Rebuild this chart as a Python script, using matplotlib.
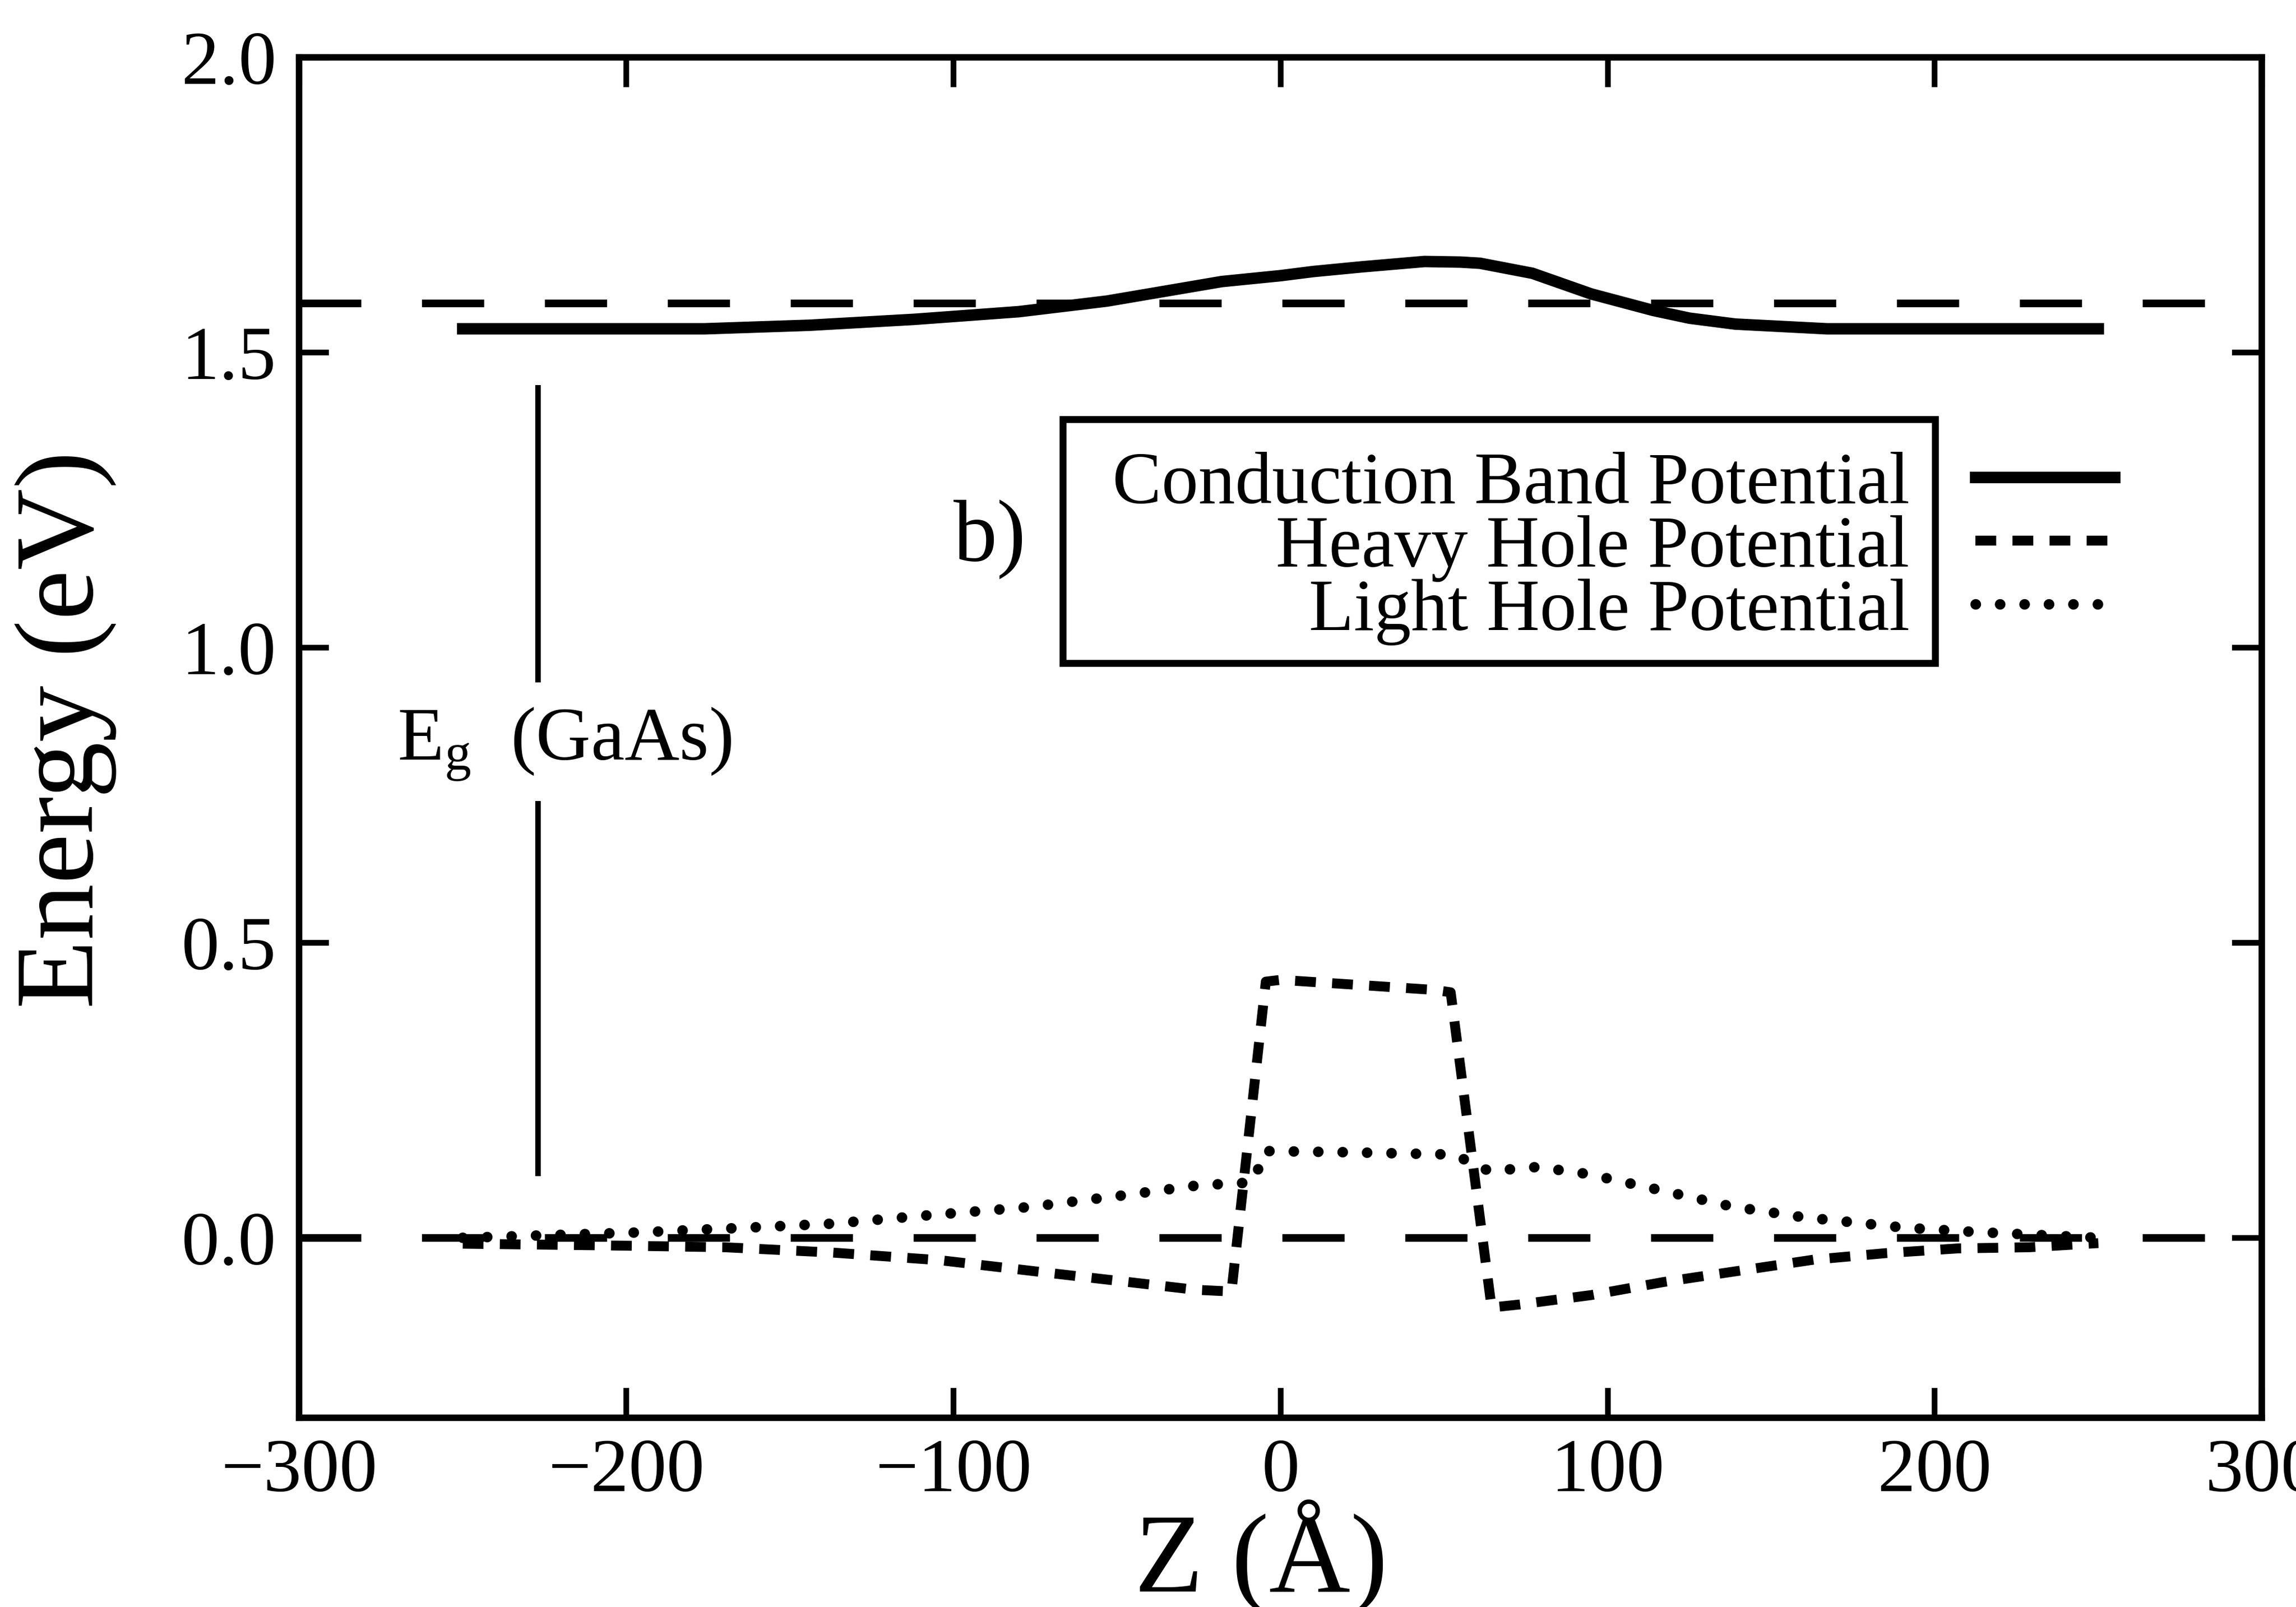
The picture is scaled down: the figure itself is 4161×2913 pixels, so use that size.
import numpy as np
import matplotlib
matplotlib.use("Agg")
import matplotlib.pyplot as plt
from matplotlib.patches import Rectangle
from matplotlib.transforms import Bbox
from matplotlib.ticker import FormatStrFormatter

plt.rcParams['font.family'] = ['Liberation Serif', 'DejaVu Serif']
plt.rcParams['mathtext.fontset'] = 'custom'
plt.rcParams['mathtext.rm'] = 'Liberation Serif'
plt.rcParams['mathtext.it'] = 'Liberation Serif:italic'

# Conduction band potential (eV) vs Z (Angstrom)
cb_z = [-250, -200, -176, -144, -112, -80, -53, -18, 0, 10, 25, 44, 55, 61, 77, 95, 114, 125, 139, 167, 200, 250]
cb_e = [1.540, 1.540, 1.540, 1.546, 1.556, 1.569, 1.587, 1.620, 1.630, 1.637, 1.645, 1.654, 1.653, 1.651,
        1.634, 1.599, 1.571, 1.558, 1.548, 1.540, 1.540, 1.540]

# Heavy hole potential
hh_z = [-250, -205, -170, -137, -104, -70, -48, -26, -15, -4.5, 0, 25, 47, 52, 64.5, 73, 95, 117, 140, 163, 185, 207, 229, 250]
hh_e = [-0.010, -0.013, -0.016, -0.025, -0.038, -0.060, -0.074, -0.088, -0.091, 0.434, 0.437, 0.428, 0.420, 0.416,
        -0.118, -0.113, -0.097, -0.075, -0.056, -0.037, -0.026, -0.018, -0.016, -0.009]

# Light hole potential
lh_z = [-250, -197, -160, -137, -108, -77, -48, -25, -11, -8, -5, 20, 53, 63.8, 78.5, 94, 115, 138, 159.5, 191, 212, 250]
lh_e = [0.000, 0.009, 0.018, 0.024, 0.038, 0.052, 0.072, 0.089, 0.093, 0.097, 0.147, 0.145, 0.141, 0.113, 0.120,
        0.108, 0.082, 0.053, 0.035, 0.017, 0.010, 0.000]

# horizontal reference levels (long dashes)
ref_levels = [1.583, 0.0]

# band gap marker
eg_z = [-227, -227]
eg_lo = [0.104, 0.941]
eg_hi = [0.740, 1.445]

xticks = [-300, -200, -100, 0, 100, 200, 300]
yticks = [0.0, 0.5, 1.0, 1.5, 2.0]

fig = plt.figure(figsize=(4161.2 / 300, 2913.2 / 300), dpi=300)
ax = fig.add_axes([0.1303, 0.1177, 0.8548, 0.8466])

for lev in ref_levels:
    ax.axhline(lev, color='black', lw=3.3, linestyle=(0, (8.2, 8.0)))

cb, = ax.plot(cb_z, cb_e, color='black', lw=5.0, label='Conduction Band Potential')
hh, = ax.plot(hh_z, hh_e, color='black', lw=4.3, linestyle=(0, (2.1, 1.65)), label='Heavy Hole Potential')
lh, = ax.plot(lh_z, lh_e, color='black', lw=4.6, linestyle=(0, (0.01, 2.3)),
              dash_capstyle='round', label='Light Hole Potential')

ax.vlines(eg_z, eg_lo, eg_hi, color='black', lw=2.4)
ax.text(-270, 0.81, r'E$_\mathrm{g}$  (GaAs)', fontsize=33, ha='left', va='baseline')
ax.text(-100, 1.148, 'b)', fontsize=38, ha='left', va='baseline')

ax.set_xlim(-300, 300)
ax.set_ylim(-0.305, 2.0)
ax.set_xticks(xticks)
ax.set_yticks(yticks)
ax.yaxis.set_major_formatter(FormatStrFormatter('%.1f'))
ax.tick_params(direction='in', top=True, right=True, length=13, width=2.5, labelsize=33)
ax.tick_params(axis='x', pad=9)
ax.tick_params(axis='y', pad=10)
for s in ax.spines.values():
    s.set_linewidth(2.8)

ax.set_xlabel('Z (Å)', fontsize=49)
ax.set_ylabel('Energy (eV)', fontsize=49)
ax.xaxis.label.set_va('baseline')
ax.xaxis.set_label_coords(0.49, -0.128)
ax.yaxis.set_label_coords(-0.093, 0.506)

leg = ax.legend(handles=[cb, hh, lh], loc='center right', bbox_to_anchor=(0.925, 0.639),
                frameon=False, markerfirst=False, fontsize=32, handlelength=1.89,
                handletextpad=0.9, labelspacing=-0.05, borderpad=0, borderaxespad=0)

# box drawn around the legend text only (handles sit outside it)
fig.canvas.draw()
r = fig.canvas.get_renderer()
bb = Bbox.union([t.get_window_extent(r) for t in leg.get_texts()])
x0, y0 = bb.x0 - 90, bb.y0 - 33
x1, y1 = bb.x1 + 47, bb.y1 + 59
inv = fig.transFigure.inverted()
(fx0, fy0), (fx1, fy1) = inv.transform([(x0, y0), (x1, y1)])
fig.add_artist(Rectangle((fx0, fy0), fx1 - fx0, fy1 - fy0, transform=fig.transFigure,
                         fill=False, edgecolor='black', lw=3))

fig.savefig('out.png', dpi=300)
